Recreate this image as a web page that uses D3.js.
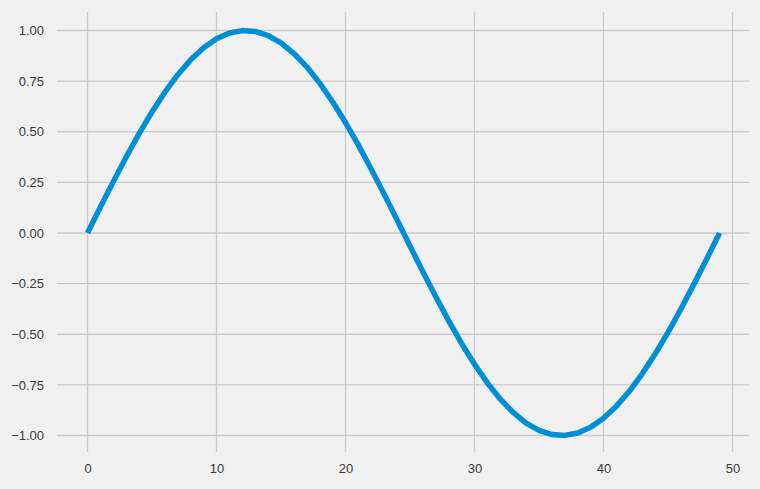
<!DOCTYPE html>
<html>
<head>
<meta charset="utf-8">
<script src="https://cdn.jsdelivr.net/npm/d3@7"></script>
<style>
  html, body { margin: 0; padding: 0; background: #f0f0f0; }
  svg { display: block; }
  .tick text { font-family: "Liberation Sans", Arial, sans-serif; font-size: 13px; fill: #3a3a3a; }
</style>
</head>
<body>
<svg id="chart" width="760" height="489"></svg>
<script>
// sample index and values
const X_VALUES = d3.range(0, 50)
const Y_VALUES = [
    0, 0.1279, 0.2537, 0.3753, 0.4907, 0.5981, 0.6956, 0.7818, 0.8551, 0.9143,
    0.9587, 0.9874, 0.9995, 0.9955, 0.9749, 0.9389, 0.8864, 0.8206, 0.7402, 0.6482,
    0.5455, 0.4339, 0.3151, 0.1912, 0.0641, -0.0641, -0.1912, -0.3151, -0.4339, -0.5455,
    -0.6482, -0.7402, -0.8206, -0.8864, -0.9389, -0.9749, -0.9955, -0.9995, -0.9874, -0.9587,
    -0.9143, -0.8551, -0.7818, -0.6956, -0.5981, -0.4907, -0.3753, -0.2537, -0.1279, 0
]
const X_TICKS = [0, 10, 20, 30, 40, 50]
const Y_TICKS = [-1.00, -0.75, -0.50, -0.25, 0.00, 0.25, 0.50, 0.75, 1.00]

const LINE_COLOR = "#008fd5"
const GRID_COLOR = "#cbcbcb"

const svg = d3.select("#chart")

const X_SCALE = d3.scaleLinear().domain([0, 50]).range([87.5, 732.5])
const Y_SCALE = d3.scaleLinear().domain([-1, 1]).range([435.5, 30.5])

// axes box limits
const X_MIN = -2.36, X_MAX = 51.28
const Y_MIN = -1.081, Y_MAX = 1.091
const boxLeft = X_SCALE(X_MIN), boxRight = X_SCALE(X_MAX)
const boxTop = Y_SCALE(Y_MAX), boxBottom = Y_SCALE(Y_MIN)

// Gridlines
svg.append("g")
    .selectAll("line")
    .data(Y_TICKS)
    .join("line")
    .attr("x1", boxLeft).attr("x2", boxRight)
    .attr("y1", d => Y_SCALE(d)).attr("y2", d => Y_SCALE(d))
    .attr("stroke", GRID_COLOR)
    .attr("stroke-width", 1.3)
svg.append("g")
    .selectAll("line")
    .data(X_TICKS)
    .join("line")
    .attr("x1", d => X_SCALE(d)).attr("x2", d => X_SCALE(d))
    .attr("y1", boxTop).attr("y2", boxBottom)
    .attr("stroke", GRID_COLOR)
    .attr("stroke-width", 1.3)

// Axes (labels only)
const yAxis = svg.append("g")
    .attr("transform", `translate(${boxLeft}, 0)`)
    .call(d3.axisLeft(Y_SCALE).tickValues(Y_TICKS)
        .tickFormat(d => d3.format(".2f")(d).replace("-", "\u2212"))
        .tickSize(0).tickPadding(13))
yAxis.select(".domain").remove()

const xAxis = svg.append("g")
    .attr("transform", `translate(0, ${boxBottom})`)
    .call(d3.axisBottom(X_SCALE).tickValues(X_TICKS).tickSize(0).tickPadding(12))
xAxis.select(".domain").remove()

// Line
const line = d3.line()
    .x((d, i) => X_SCALE(X_VALUES[i]))
    .y(d => Y_SCALE(d))

svg.append("path")
    .datum(Y_VALUES)
    .attr("d", line)
    .attr("fill", "none")
    .attr("stroke", LINE_COLOR)
    .attr("stroke-width", 5.5)
    .attr("stroke-linejoin", "round")
</script>
</body>
</html>
